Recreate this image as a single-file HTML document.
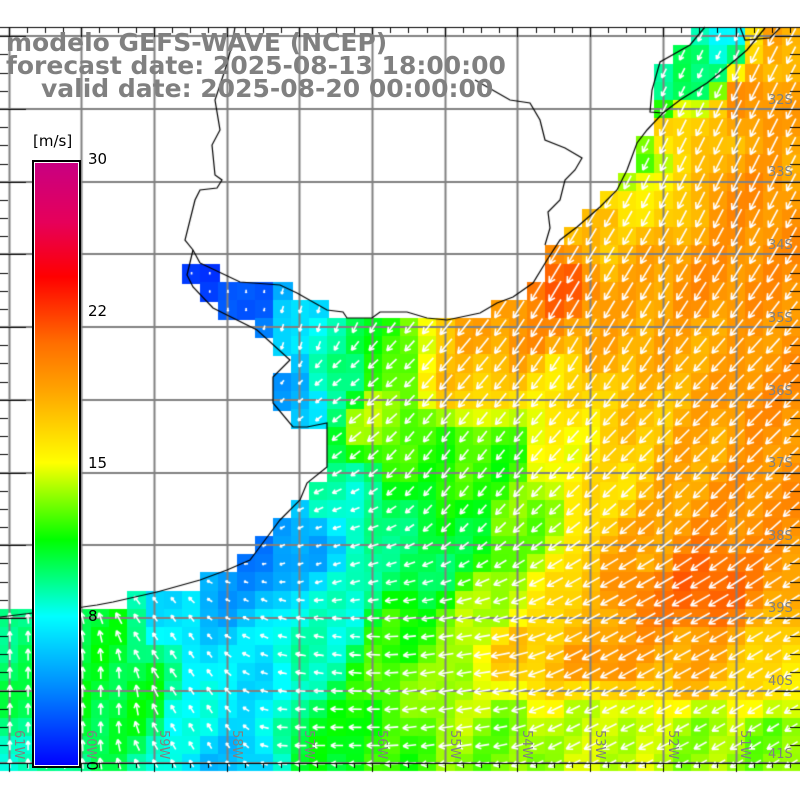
<!DOCTYPE html>
<html><head><meta charset="utf-8">
<style>
html,body{margin:0;padding:0;background:#fff;}
#w{position:relative;width:800px;height:800px;overflow:hidden;font-family:"DejaVu Sans","Liberation Sans",sans-serif;}
canvas{position:absolute;left:0;top:0;}
.t{position:absolute;color:#808080;font-weight:bold;font-size:25px;white-space:nowrap;line-height:24px;}
.cb{position:absolute;left:32px;top:160px;width:45px;height:604px;border:2px solid #000;
background:linear-gradient(to top,#0000ff 0%,#0080ff 12%,#00ffff 24.8%,#00ff80 31%,#00ff00 37.5%,#96ff00 45%,#ffff00 50.2%,#ffa500 62%,#ff6e00 70%,#ff0000 81%,#e6005a 90%,#c80082 100%);box-shadow:inset 0 0 0 1px #fff;}
.lb{position:absolute;font-size:15px;color:#000;font-family:"DejaVu Sans",sans-serif;}
.lat{position:absolute;left:768px;font-size:13px;color:#808080;font-family:"DejaVu Sans",sans-serif;}
.lon{position:absolute;font-size:13px;color:#808080;transform:rotate(90deg);transform-origin:0 0;font-family:"DejaVu Sans",sans-serif;}
</style></head><body><div id="w">
<canvas id="c" width="800" height="800"></canvas>
<div class="t" style="left:6px;top:31px">modelo GEFS-WAVE (NCEP)</div>
<div class="t" style="left:6px;top:54px">forecast date: 2025-08-13 18:00:00</div>
<div class="t" style="left:41px;top:77px">valid date: 2025-08-20 00:00:00</div>
<div class="lb" style="left:33px;top:132px">[m/s]</div>
<div class="cb"></div>
<div class="lb" style="left:88px;top:150px">30</div>
<div class="lb" style="left:88px;top:302px">22</div>
<div class="lb" style="left:88px;top:454px">15</div>
<div class="lb" style="left:88px;top:607px">8</div>
<div class="lb" style="left:88px;top:758px;transform:rotate(90deg);transform-origin:5px 8px">0</div>
<div class="lat" style="top:93px">32S</div><div class="lat" style="top:165px">33S</div>
<div class="lat" style="top:238px">34S</div><div class="lat" style="top:311px">35S</div>
<div class="lat" style="top:384px">36S</div><div class="lat" style="top:456px">37S</div>
<div class="lat" style="top:529px">38S</div><div class="lat" style="top:601px">39S</div>
<div class="lat" style="top:674px">40S</div><div class="lat" style="top:747px">41S</div>
<div class="lon" style="left:26px;top:730px">61W</div><div class="lon" style="left:98px;top:730px">60W</div>
<div class="lon" style="left:171px;top:730px">59W</div><div class="lon" style="left:244px;top:730px">58W</div>
<div class="lon" style="left:316px;top:730px">57W</div><div class="lon" style="left:389px;top:730px">56W</div>
<div class="lon" style="left:462px;top:730px">55W</div><div class="lon" style="left:534px;top:730px">54W</div>
<div class="lon" style="left:607px;top:730px">53W</div><div class="lon" style="left:680px;top:730px">52W</div>
<div class="lon" style="left:752px;top:730px">51W</div>
</div>
<script>
var c=document.getElementById('c').getContext('2d');
var south=[[0,617],[33,613],[83,607],[97,605],[113,602],[157,592],[200,580],[227,570],[250,560],[265,540],[280,520],[300,500],[307,483],[327,467],[327,423],[307,427],[293,427],[273,403],[273,377],[290,360],[257,330],[213,308],[193,287],[187,275],[193,250]];
var north=[[200,263],[240,282],[280,285],[297,293],[327,310],[343,312],[347,318],[372,318],[380,312],[407,312],[427,318],[447,320],[480,313],[497,303],[513,297],[533,283],[547,260],[560,240],[577,227],[600,207],[617,190],[627,170],[637,143],[647,130],[663,113],[680,100],[707,83],[727,67],[747,50],[765,28]];
var poly=south.concat(north.slice(0,north.length-5)).concat([[650,112],[652,70],[690,45],[705,27],[800,27],[800,775],[0,775]]);
function inP(x,y,p){var r=false;for(var i=0,j=p.length-1;i<p.length;j=i++){var xi=p[i][0],yi=p[i][1],xj=p[j][0],yj=p[j][1];if(((yi>y)!=(yj>y))&&(x<(xj-xi)*(y-yi)/(yj-yi)+xi))r=!r;}return r;}
var SP=[[215,285,2],[260,305,3],[300,310,7],[320,335,8.5],[295,390,5],[340,380,10],[340,500,9],[300,540,5],[260,560,4],[220,590,5],[180,600,7],[100,630,11],[40,650,10],[60,720,11],[30,760,9],[140,700,11],[200,720,8],[230,760,6],[260,680,7],[300,650,9],[330,620,8.5],[320,740,11],[380,350,12],[420,440,12],[380,420,14],[460,380,17],[480,330,18],[560,290,21],[530,330,19],[500,460,12],[470,540,11],[420,560,10],[560,450,15],[560,380,16],[640,420,17],[700,350,18],[700,450,18],[750,500,19],[640,560,18],[650,590,20],[700,590,21],[580,620,17],[500,610,14],[400,640,12],[400,680,13],[460,700,14],[520,650,17],[600,660,19],[700,660,18],[780,680,16],[500,740,13],[600,720,14],[700,740,13.5],[780,740,13],[380,740,12],[660,90,9],[630,160,12],[680,130,17],[750,100,19],[740,200,19],[650,200,16],[600,240,17],[640,270,18],[700,280,19],[780,280,19],[780,40,18],[720,35,8],[700,70,10],[760,400,19],[600,340,18],[590,470,16],[520,520,13]];
var DP=[[220,290,0,1],[300,320,-0.3,1],[340,400,-1,0.8],[450,450,-0.8,1],[600,300,-0.6,1],[700,150,-0.5,1],[700,450,-0.9,0.9],[650,650,-1,0.55],[780,700,-1,0.6],[600,740,-1,0.5],[450,700,-1,0.15],[320,720,-1,0],[300,640,-1,-0.2],[250,620,-1,-0.5],[180,650,-0.7,-1],[180,740,-0.6,-1],[100,700,0,-1],[30,700,0,-1],[320,560,-1,0.3],[280,520,-1,0.5]];
function idw(x,y,P,k){var s=0,w=0;for(var i=0;i<P.length;i++){var d=(x-P[i][0])*(x-P[i][0])+(y-P[i][1])*(y-P[i][1])+100;var q=1/(d*d);s+=q*P[i][k];w+=q;}return s/w;}
var CS=[[0,0,0,255],[4,0,128,255],[8,0,255,255],[11.5,0,255,0],[13.5,150,255,0],[15,255,255,0],[18,255,165,0],[20.5,255,110,0],[24,255,0,0],[27,230,0,90],[30,200,0,130]];
function col(s){s=Math.max(0,Math.min(30,s));for(var i=1;i<CS.length;i++){if(s<=CS[i][0]){var a=CS[i-1],b=CS[i],t=(s-a[0])/(b[0]-a[0]);return 'rgb('+Math.round(a[1]+t*(b[1]-a[1]))+','+Math.round(a[2]+t*(b[2]-a[2]))+','+Math.round(a[3]+t*(b[3]-a[3]))+')';}}}
var cs=18.17,ox=0.8,oy=27.8,cells=[];
for(var r=0;r<41;r++)for(var q=0;q<44;q++){var x=ox+q*cs,y=oy+r*cs,cx=x+cs/2,cy=y+cs/2;if(cy>775)continue;if(!inP(cx,cy,poly))continue;
var s=idw(cx,cy,SP,2)+0.6*Math.sin(q*1.7+r*0.9);c.fillStyle=col(s);c.fillRect(Math.floor(x),Math.floor(y),Math.ceil(cs)+1,Math.ceil(cs)+1);cells.push([cx,cy,s]);}
c.fillStyle='#fff';c.fillRect(0,0,800,27);c.fillRect(0,771,800,29);
c.strokeStyle='#808080';c.lineWidth=2;
for(var i=0;i<11;i++){var gx=Math.round(8.5+72.7*i)+0.5;c.beginPath();c.moveTo(gx,27);c.lineTo(gx,763);c.stroke();}
for(var i=0;i<11;i++){var gy=Math.round(36.3+72.7*i);c.beginPath();c.moveTo(0,gy);c.lineTo(800,gy);c.stroke();}
c.strokeStyle='#fff';c.lineWidth=1.6;
cells.forEach(function(e){var u=idw(e[0],e[1],DP,2),v=idw(e[0],e[1],DP,3),n=Math.hypot(u,v)||1;u/=n;v/=n;var L=Math.max(2,e[2]*1.1);
var x1=e[0]-u*L/2,y1=e[1]-v*L/2,x2=e[0]+u*L/2,y2=e[1]+v*L/2,h=Math.min(7,L*0.45);
c.beginPath();c.moveTo(x1,y1);c.lineTo(x2,y2);
var a=Math.atan2(v,u);c.moveTo(x2,y2);c.lineTo(x2-h*Math.cos(a-0.5),y2-h*Math.sin(a-0.5));c.moveTo(x2,y2);c.lineTo(x2-h*Math.cos(a+0.5),y2-h*Math.sin(a+0.5));c.stroke();});
c.strokeStyle='#000';c.lineWidth=1.2;
function pl(p){c.beginPath();c.moveTo(p[0][0],p[0][1]);for(var i=1;i<p.length;i++)c.lineTo(p[i][0],p[i][1]);c.stroke();}
pl(south);pl(north);
pl([[235,27],[232,45],[225,70],[215,100],[220,130],[212,145],[215,175],[222,180],[217,188],[200,190],[195,200],[185,240],[193,250],[200,263]]);
pl([[475,80],[510,100],[530,103],[540,120],[545,140],[565,148],[582,158],[575,170],[565,180],[560,200],[548,212],[550,228],[545,245]]);
pl([[705,27],[690,45],[660,62],[652,90],[650,112],[663,113]]);
pl([[740,27],[745,40],[770,38],[780,28]]);
c.strokeStyle='#000';c.lineWidth=1;
c.beginPath();c.moveTo(0,27.5);c.lineTo(800,27.5);c.moveTo(0,763.5);c.lineTo(800,763.5);c.stroke();
for(var i=-1;i<45;i++){var tx=Math.round(8.5+72.7/4*i)+0.5;var big=(i%4==0);c.beginPath();c.moveTo(tx,27);c.lineTo(tx,big?37:33);c.moveTo(tx,763);c.lineTo(tx,big?772:768);c.stroke();}
for(var i=-1;i<42;i++){var ty=Math.round(36.3+72.7/4*i)+0.5;if(ty<27||ty>764)continue;var big=(i%4==0);c.beginPath();c.moveTo(0,ty);c.lineTo(big?26:8,ty);c.moveTo(800,ty);c.lineTo(big?775:790,ty);c.stroke();}
</script>
</body></html>
